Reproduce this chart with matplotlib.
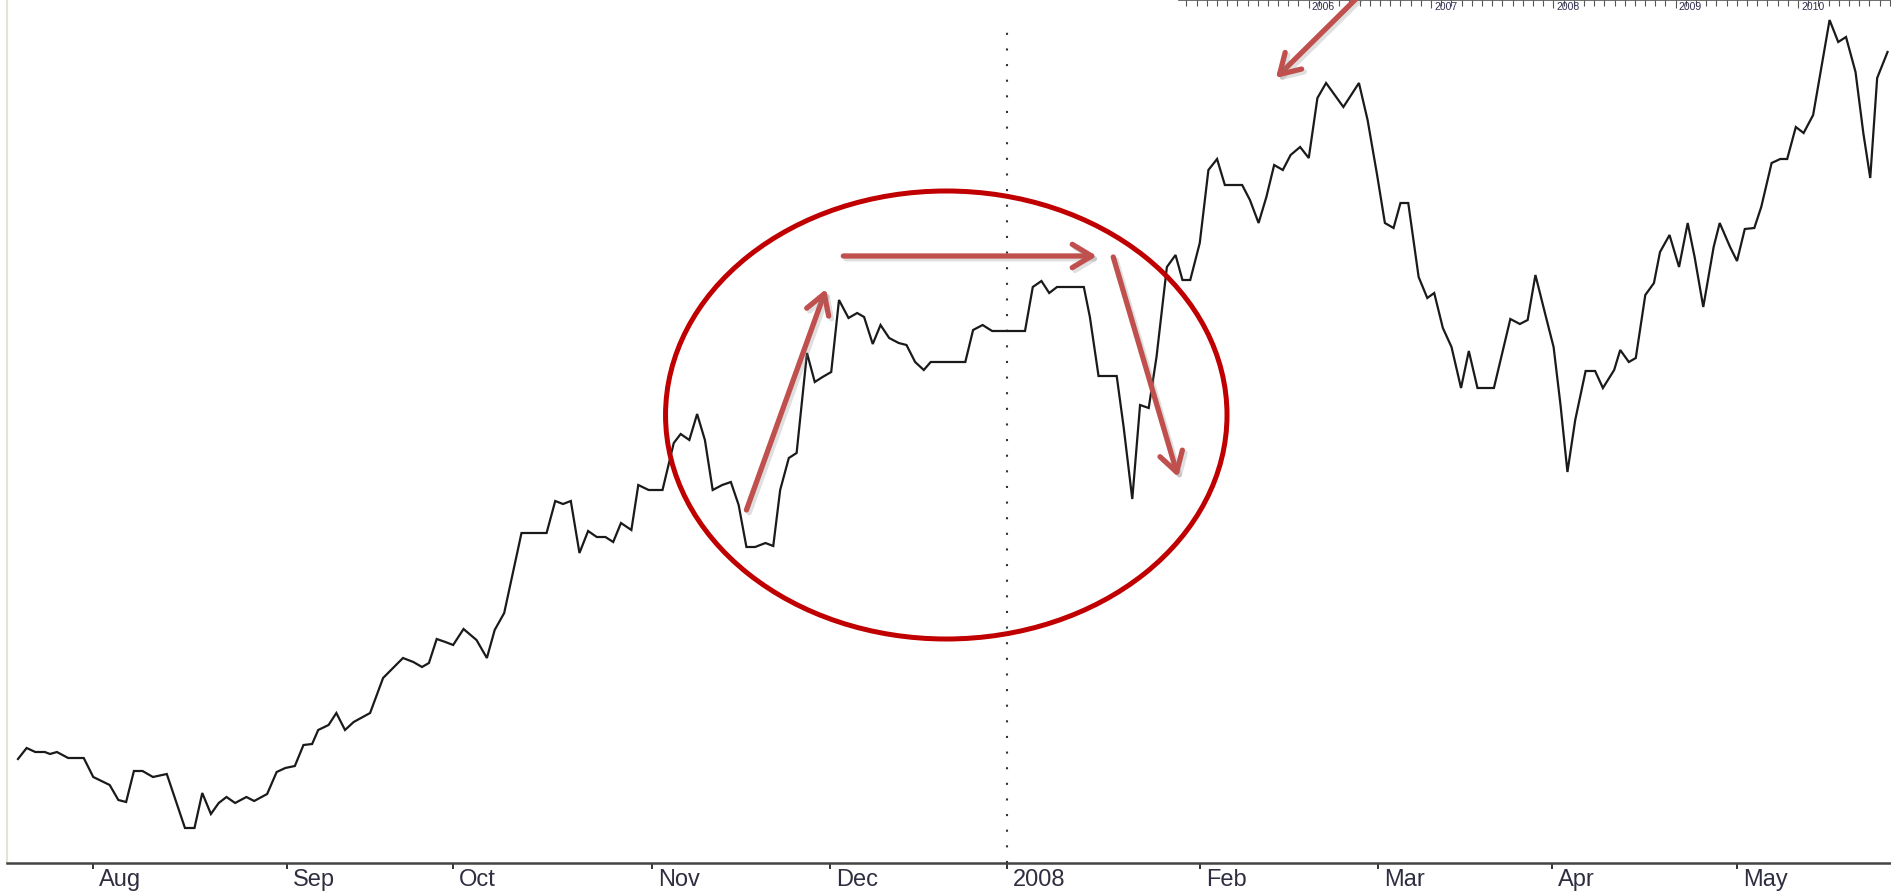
import matplotlib
matplotlib.use('Agg')
import matplotlib.pyplot as plt
import matplotlib.patheffects as pe
from matplotlib.patches import Ellipse
from matplotlib.ticker import MultipleLocator
from matplotlib.transforms import ScaledTranslation

plt.rcParams['font.family'] = ['Liberation Sans', 'DejaVu Sans']

# price line: trading day (from first bar) and close
day = [0.0, 1.0, 2.0, 3.1, 3.7, 4.5, 5.8, 7.6, 8.7, 10.6, 11.6, 12.5, 13.4, 14.4, 15.6, 17.2,
       19.3, 20.4, 21.3, 22.3, 23.2, 24.1, 25.1, 26.4, 27.3, 28.8, 29.9, 30.9, 32.0, 33.0, 34.0, 34.7,
       35.9, 36.8, 37.8, 38.8, 40.7, 42.2, 44.5, 45.7, 46.7, 47.5, 48.4, 49.4, 50.3, 51.5, 53.0, 54.2,
       55.1, 56.2, 58.2, 61.1, 62.1, 63.0, 63.9, 64.9, 65.9, 66.9, 67.9, 68.8, 69.7, 70.9, 71.7, 72.9, 74.5,
       75.8, 76.6, 77.6, 78.5, 79.4, 80.3, 81.4, 82.4, 83.3, 84.2, 85.2, 86.4, 87.3, 88.1, 89.1, 90.0,
       91.2, 92.1, 93.0, 94.0, 94.9, 96.0, 97.0, 97.8, 98.8, 99.7, 100.7, 101.8, 102.7, 103.7, 104.7, 105.5, 109.5,
       110.4, 111.5, 112.6, 116.4, 117.3, 118.3, 119.2, 120.1, 123.2, 123.9, 124.9, 127.0, 127.8, 128.8,
       129.7, 130.7, 131.6, 132.8, 133.8, 134.6, 135.5, 136.6, 137.6, 138.6, 139.5, 141.5, 142.4, 143.4,
       144.3, 145.2, 146.2, 147.1, 148.2,
       149.2, 150.2, 151.2, 152.2, 153.2, 155.0, 156.0, 157.1, 158.0, 159.0, 159.8, 160.7, 161.9, 162.9,
       163.7, 164.7, 165.7, 166.8, 167.7, 168.7, 170.6, 172.5, 173.6, 174.5, 175.4, 176.5, 177.5, 178.3,
       179.1, 180.0, 181.2, 182.3, 183.2, 184.5, 185.2, 186.2, 187.0, 188.1, 189.1, 189.8, 190.9, 192.0,
       193.0, 193.8, 194.8, 196.0, 196.7, 197.9, 198.7, 199.6, 200.7, 201.5, 202.7, 203.7, 204.5, 205.5,
       206.4, 207.5, 208.2, 209.4, 210.4, 211.3, 212.4, 213.3, 214.1, 214.9, 216.1]
close = [24.1, 25.2, 24.8, 24.8, 24.6, 24.8, 24.2, 24.2, 22.3, 21.5, 20.0, 19.8, 22.9, 22.9, 22.3, 22.6,
         17.2, 17.2, 20.7, 18.6, 19.7, 20.3, 19.7, 20.3, 19.9, 20.6, 22.8, 23.2, 23.4, 25.5, 25.6, 27.0,
         27.5, 28.7, 27.0, 27.8, 28.7, 32.2, 34.2, 33.8, 33.3, 33.7, 36.1, 35.8, 35.5, 37.1, 36.0, 34.2,
         37.0, 38.7, 46.7, 46.7, 49.9, 49.6, 49.9, 44.7, 46.9, 46.3, 46.3, 45.8, 47.7, 47.0, 51.5, 51.0, 51.0,
         55.7, 56.6, 56.0, 58.6, 56.0, 51.0, 51.5, 51.8, 49.5, 45.3, 45.3, 45.7, 45.4, 51.0, 54.2, 54.7,
         64.7, 61.8, 62.3, 62.8, 70.0, 68.2, 68.7, 68.3, 65.6, 67.5, 66.2, 65.7, 65.5, 63.8, 63.0, 63.8, 63.8,
         67.0, 67.5, 66.9, 66.9, 71.3, 71.9, 70.7, 71.3, 71.3, 68.3, 62.4, 62.4, 57.3, 50.1,
         59.5, 59.2, 64.3, 73.3, 74.5, 72.0, 72.0, 75.7, 83.0, 84.1, 81.5, 81.5, 80.0, 77.7,
         80.3, 83.5, 83.0, 84.5, 85.3,
         84.2, 90.2, 91.7, 90.5, 89.3, 91.7, 88.0, 82.5, 77.7, 77.2, 79.7, 79.7, 72.3, 70.2,
         70.7, 67.2, 65.3, 61.2, 64.9, 61.2, 61.2, 68.1, 67.6, 68.0, 72.5, 68.7, 65.3, 59.5,
         52.8, 58.0, 62.9, 62.9, 61.2, 63.0, 65.0, 63.8, 64.2, 70.5, 71.7, 74.8, 76.5, 73.3,
         77.7, 74.3, 69.3, 75.3, 77.7, 75.3, 73.9, 77.1, 77.2, 79.3, 83.7, 84.1, 84.1, 87.3,
         86.7, 88.5, 92.0, 98.0, 95.8, 96.3, 92.8, 86.7, 82.2, 92.2, 94.8]

month_pos = [8.7, 31.1, 50.3, 73.3, 93.9, 114.3, 136.6, 157.2, 177.3, 198.7]
month_lbl = ['Aug', 'Sep', 'Oct', 'Nov', 'Dec', '2008', 'Feb', 'Mar', 'Apr', 'May']

# long-term chart strip pasted at the top right
years = [2006, 2007, 2008, 2009, 2010]

# hand-drawn annotations: (tail, tip) in (day, price)
arrows = [((84.2, 49.0), (93.4, 71.1)),
          ((95.4, 74.4), (124.7, 74.4)),
          ((126.6, 74.3), (134.1, 52.3)),
          ((155.7, 101.0), (145.4, 92.2))]
ring_center = (107.3, 58.5)
ring_w, ring_h = 64.9, 44.8

W, H = 1891, 896
fig = plt.figure(figsize=(W / 100, H / 100), dpi=100)
fig.patch.set_facecolor('white')

strip = fig.add_axes([1179 / W, 1 - 12 / H, 712 / W, 12 / H], zorder=1)
ax = fig.add_axes([7 / W, 33 / H, 1884 / W, 863 / H], zorder=2)
ax.patch.set_alpha(0)

# main price line
ax.plot(day, close, color='#1a1a1a', lw=1.6, solid_joinstyle='miter', zorder=3)
ax.set_xlim(-1.27, 216.5)
ax.set_ylim(13.7, 100)

ax.spines['top'].set_visible(False)
ax.spines['right'].set_visible(False)
ax.spines['left'].set_color('#e4e4d2')
ax.spines['left'].set_linewidth(1.5)
ax.spines['bottom'].set_color('#444444')
ax.spines['bottom'].set_linewidth(1.8)
ax.set_yticks([])
ax.set_xticks(month_pos, month_lbl)
ax.tick_params(axis='x', direction='out', length=4.5, width=1.4, color='#333333',
               pad=0, labelsize=17, labelcolor='#2e2e40')
off = ScaledTranslation(6 / 100, 0, fig.dpi_scale_trans)
for lbl in ax.get_xticklabels():
    lbl.set_horizontalalignment('left')
    lbl.set_transform(lbl.get_transform() + off)

# year boundary
ax.axvline(month_pos[5], ymax=0.972, color='#333333', lw=1.5,
           linestyle=(0, (1, 6.5)), zorder=1)

# red ring
ax.add_patch(Ellipse(ring_center, ring_w, ring_h, fill=False, ec='#C00000', lw=3.6, zorder=4))

# arrows
for tail, tip in arrows:
    ax.annotate('', xy=tip, xytext=tail, annotation_clip=False,
                arrowprops=dict(arrowstyle='->,head_length=0.7,head_width=0.42',
                                color='#C0504D', lw=3.8, shrinkA=0, shrinkB=0,
                                mutation_scale=20, capstyle='round', joinstyle='round',
                                path_effects=[pe.SimpleLineShadow(offset=(2, -2), shadow_color='0.5',
                                                                  alpha=0.25),
                                              pe.Normal()]),
                zorder=5)

# long-term strip
strip.set_xlim(2004.94, 2010.76)
strip.set_ylim(0, 1)
strip.patch.set_alpha(0)
for s in ['bottom', 'left', 'right']:
    strip.spines[s].set_visible(False)
strip.spines['top'].set_color('#555555')
strip.spines['top'].set_linewidth(1.2)
strip.set_yticks([])
strip.xaxis.set_ticks_position('top')
strip.set_xticks(years)
strip.xaxis.set_minor_locator(MultipleLocator(1 / 12))
strip.tick_params(axis='x', which='both', direction='in', labeltop=False, labelbottom=False,
                  color='#555555', width=0.8)
strip.tick_params(axis='x', which='major', length=6)
strip.tick_params(axis='x', which='minor', length=4.5)
for y in years:
    strip.text(y + 0.025, 0.4, str(y), fontsize=7.5, color='#303050', ha='left', va='center',
               transform=strip.get_xaxis_transform())

fig.savefig('out.png', dpi=100, facecolor='white')
